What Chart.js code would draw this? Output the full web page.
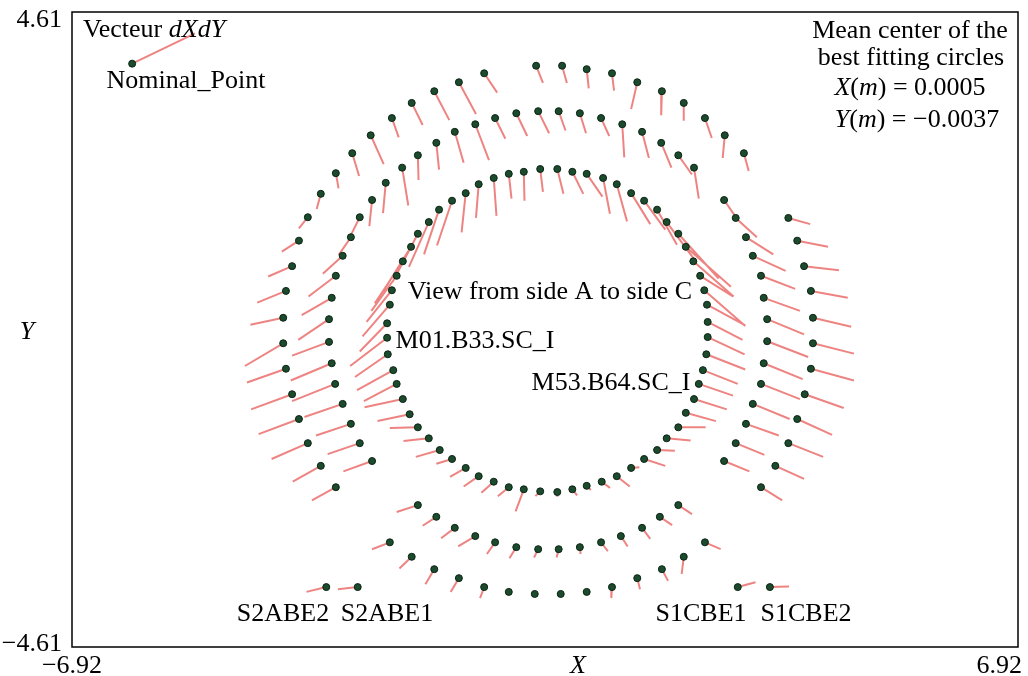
<!DOCTYPE html>
<html>
<head>
<meta charset="utf-8">
<script src="https://cdn.jsdelivr.net/npm/chart.js@4.4.1/dist/chart.umd.min.js"></script>
<style>
html, body { margin: 0; padding: 0; background: #fff; }
#wrap { width: 1028px; height: 676px; }
</style>
</head>
<body>
<div id="wrap"><canvas id="chart" width="1028" height="676"></canvas></div>
<script>
// axis limits (only min / max are labelled)
const xTicks = [-6.92, 6.92];
const yTicks = [-4.61, 4.61];

// inner ring, M01 .. M64 (metres) and the dXdY vectors (magnified)
const innerX = [-2.27, -2.24, -2.17, -2.08, -1.96, -1.86, -1.70, -1.55, -1.36, -1.16, -0.97, -0.75, -0.53, -0.31, -0.07, 0.18,
  0.40, 0.61, 0.85, 1.05, 1.26, 1.45, 1.64, 1.78, 1.95, 2.06, 2.17, 2.27, 2.33, 2.37, 2.38, 2.38,
  2.36, 2.31, 2.25, 2.18, 2.06, 1.95, 1.78, 1.64, 1.45, 1.26, 1.05, 0.83, 0.61, 0.40, 0.18, -0.07,
  -0.31, -0.53, -0.75, -0.97, -1.16, -1.36, -1.54, -1.70, -1.86, -1.98, -2.08, -2.17, -2.22, -2.30, -2.31, -2.31];
const innerY = [0.36, 0.57, 0.78, 0.99, 1.20, 1.39, 1.56, 1.74, 1.87, 1.98, 2.11, 2.20, 2.26, 2.29, 2.33, 2.33,
  2.29, 2.26, 2.20, 2.11, 1.98, 1.87, 1.74, 1.56, 1.39, 1.20, 0.99, 0.78, 0.57, 0.36, 0.11, -0.11,
  -0.36, -0.59, -0.79, -1.01, -1.21, -1.42, -1.58, -1.75, -1.88, -2.01, -2.13, -2.21, -2.27, -2.32, -2.36, -2.35,
  -2.32, -2.29, -2.21, -2.13, -2.01, -1.88, -1.75, -1.58, -1.42, -1.23, -1.01, -0.79, -0.59, -0.36, -0.12, 0.09];
const innerDX = [-0.40, -0.37, -0.37, -0.41, -0.41, -0.37, -0.29, -0.22, -0.22, -0.06, -0.04, 0.04, 0.04, 0.01, 0.04, 0.09,
  0.16, 0.23, 0.10, 0.15, 0.28, 0.31, 0.29, 0.41, 0.59, 0.66, 0.59, 0.48, 0.60, 0.56, 0.51, 0.54,
  0.57, 0.51, 0.50, 0.48, 0.44, 0.40, 0.35, 0.26, 0.31, 0.12, 0.19, 0.12, 0.06, 0.07, 0.00, -0.07,
  -0.12, -0.16, -0.18, -0.22, -0.23, -0.23, -0.35, -0.37, -0.41, -0.47, -0.56, -0.48, -0.53, -0.48, -0.54, -0.40];
const innerDY = [-0.46, -0.46, -0.51, -0.61, -0.65, -0.70, -0.65, -0.65, -0.65, -0.57, -0.49, -0.55, -0.36, -0.42, -0.33, -0.36,
  -0.32, -0.33, -0.52, -0.54, -0.45, -0.42, -0.51, -0.55, -0.65, -0.58, -0.51, -0.30, -0.52, -0.30, -0.26, -0.25,
  -0.22, -0.20, -0.17, -0.15, -0.12, 0.00, -0.03, -0.01, -0.10, 0.01, -0.15, -0.09, -0.06, -0.09, -0.07, -0.07,
  -0.32, -0.13, -0.16, -0.15, -0.13, -0.07, -0.10, -0.04, -0.01, -0.10, -0.12, -0.25, -0.29, -0.33, -0.41, -0.41];

// middle ring
const middleX = [-2.53, -2.71, -2.84, -2.96, -3.07, -3.12, -3.16, -3.16, -3.12, -3.06, -2.96, -2.84, -2.71, -2.53, -2.33, -2.09,
  -1.86, -1.59, -1.32, -1.02, -0.73, -0.42, -0.10, 0.20, 0.51, 0.82, 1.13, 1.42, 1.70, 1.95, 2.18,
  2.62, 2.79, 2.94, 3.04, 3.16, 3.20, 3.25, 3.25, 3.20, 3.16, 3.04, 2.94, 2.79, 2.62,
  -1.86, -1.59, -1.32, -1.02, -0.73, -0.42, -0.10, 0.20, 0.51, 0.82, 1.11, 1.42, 1.68, 1.95];
const middleY = [-1.91, -1.65, -1.37, -1.08, -0.79, -0.49, -0.18, 0.15, 0.46, 0.78, 1.07, 1.34, 1.63, 1.88, 2.13, 2.35,
  2.53, 2.71, 2.87, 2.98, 3.07, 3.14, 3.17, 3.17, 3.14, 3.07, 2.98, 2.87, 2.71, 2.53, 2.35,
  1.88, 1.62, 1.34, 1.07, 0.78, 0.46, 0.15, -0.17, -0.49, -0.79, -1.08, -1.37, -1.65, -1.91,
  -2.55, -2.72, -2.88, -3.00, -3.09, -3.16, -3.19, -3.19, -3.16, -3.09, -3.00, -2.88, -2.72, -2.55];
const middleDX = [-0.42, -0.47, -0.51, -0.56, -0.63, -0.60, -0.54, -0.45, -0.44, -0.40, -0.29, -0.18, -0.13, -0.04, -0.04, 0.09,
  0.01, 0.04, 0.13, 0.20, 0.15, 0.16, 0.16, 0.10, 0.09, 0.12, 0.03, 0.10, 0.15, 0.20, 0.07,
  0.18, 0.31, 0.40, 0.48, 0.50, 0.53, 0.54, 0.60, 0.57, 0.57, 0.54, 0.48, 0.42, 0.37,
  -0.31, -0.20, -0.20, -0.25, -0.12, -0.10, -0.06, -0.03, 0.01, 0.10, 0.10, 0.12, 0.18, 0.20];
const middleDY = [-0.15, -0.16, -0.17, -0.19, -0.25, -0.25, -0.20, -0.30, -0.25, -0.30, -0.26, -0.26, -0.26, -0.38, -0.44, -0.55,
  -0.36, -0.39, -0.45, -0.52, -0.30, -0.33, -0.32, -0.28, -0.29, -0.26, -0.48, -0.38, -0.36, -0.28, -0.45,
  -0.26, -0.28, -0.25, -0.22, -0.19, -0.19, -0.22, -0.23, -0.23, -0.22, -0.22, -0.17, -0.17, -0.15,
  -0.10, -0.13, -0.15, -0.15, -0.17, -0.16, -0.12, -0.12, -0.10, -0.13, -0.15, -0.16, -0.12, -0.13];

// outer ring
const outerX = [-3.06, -3.28, -3.47, -3.60, -3.70, -3.79, -3.83, -3.83, -3.79, -3.70, -3.60, -3.47, -3.28, -3.06, -2.82, -2.55,
  -2.24, -1.95, -1.62, -1.26, -0.89, -0.13, 0.25, 0.61, 0.98, 1.35, 1.71, 2.03, 2.34, 2.63, 2.91,
  3.56, 3.69, 3.79, 3.89, 3.92, 3.92, 3.89, 3.80, 3.69, 3.56, 3.37, 3.16,
  -2.27, -1.95, -1.62, -1.26, -0.89, -0.53, -0.15, 0.23, 0.61, 0.98, 1.35, 1.71, 2.03, 2.34];
const outerY = [-2.29, -1.98, -1.65, -1.30, -0.94, -0.57, -0.20, 0.17, 0.56, 0.92, 1.29, 1.63, 1.97, 2.27, 2.56, 2.82,
  3.07, 3.29, 3.46, 3.59, 3.72, 3.83, 3.83, 3.78, 3.72, 3.59, 3.46, 3.29, 3.07, 2.82, 2.56,
  1.62, 1.29, 0.92, 0.56, 0.17, -0.20, -0.57, -0.94, -1.30, -1.65, -1.98, -2.29,
  -3.09, -3.30, -3.48, -3.61, -3.74, -3.81, -3.84, -3.84, -3.81, -3.74, -3.61, -3.48, -3.30, -3.09];
const outerDX = [-0.35, -0.41, -0.53, -0.59, -0.60, -0.57, -0.56, -0.48, -0.42, -0.35, -0.25, -0.13, -0.06, 0.04, 0.10, 0.19,
  0.10, 0.16, 0.22, 0.25, 0.19, 0.10, 0.07, 0.03, 0.03, -0.09, -0.01, 0.00, 0.10, -0.03, 0.07,
  0.32, 0.45, 0.51, 0.54, 0.56, 0.60, 0.63, 0.57, 0.51, 0.51, 0.42, 0.31,
  -0.26, -0.18, -0.13, -0.12, -0.06, 0.00, 0.00, 0.00, 0.00, -0.01, 0.04, 0.09, -0.03, 0.23];
const outerDY = [-0.19, -0.23, -0.23, -0.22, -0.22, -0.20, -0.33, -0.10, -0.17, -0.15, -0.16, -0.16, -0.22, -0.22, -0.33, -0.42,
  -0.28, -0.32, -0.42, -0.46, -0.28, -0.25, -0.25, -0.28, -0.25, -0.39, -0.35, -0.26, -0.29, -0.33, -0.26,
  -0.09, -0.09, -0.06, -0.10, -0.13, -0.15, -0.17, -0.20, -0.23, -0.20, -0.19, -0.19,
  -0.10, -0.17, -0.22, -0.20, -0.16, -0.04, -0.03, -0.03, -0.03, -0.16, -0.16, -0.17, -0.25, -0.10];

// end-cap points S2ABE2, S2ABE1, S1CBE1, S1CBE2
const capX = [-3.20, -2.74, 2.82, 3.29];
const capY = [-3.74, -3.74, -3.74, -3.74];
const capDX = [-0.29, -0.29, 0.26, 0.28];
const capDY = [-0.07, -0.03, 0.07, 0.01];

// "Nominal_Point" key sample
const keyX = [-6.04];
const keyY = [3.86];
const keyDX = [0.92];
const keyDY = [0.44];

const points = [];
const vectors = [];

function addSet(xs, ys, dxs, dys) {
    xs.forEach((x, i) => {
        points.push({ x: x, y: ys[i] });
        vectors.push({ x: x, y: ys[i] });
        vectors.push({ x: x + dxs[i], y: ys[i] + dys[i] });
        vectors.push({ x: x, y: null });
    });
}

addSet(innerX, innerY, innerDX, innerDY);
addSet(middleX, middleY, middleDX, middleDY);
addSet(outerX, outerY, outerDX, outerDY);
addSet(capX, capY, capDX, capDY);
addSet(keyX, keyY, keyDX, keyDY);

const SERIF = '"Liberation Serif", "DejaVu Serif", serif';
const FS = 26;

// draws pieces of text, some italic, centred on cx
function richText(ctx, parts, cx, y, size) {
    let total = 0;
    parts.forEach(p => {
        ctx.font = (p[1] ? 'italic ' : '') + size + 'px ' + SERIF;
        total += ctx.measureText(p[0]).width;
    });
    let x = cx - total / 2;
    ctx.textAlign = 'left';
    parts.forEach(p => {
        ctx.font = (p[1] ? 'italic ' : '') + size + 'px ' + SERIF;
        ctx.fillText(p[0], x, y);
        x += ctx.measureText(p[0]).width;
    });
}

const decor = {
    id: 'decor',
    afterDraw(chart) {
        const ctx = chart.ctx;
        const a = chart.chartArea;
        const xs = chart.scales.x;
        const ys = chart.scales.y;

        ctx.save();
        ctx.strokeStyle = '#000';
        ctx.lineWidth = 1.5;
        ctx.strokeRect(a.left, a.top, a.right - a.left, a.bottom - a.top);

        ctx.fillStyle = '#000';
        ctx.textBaseline = 'alphabetic';
        ctx.font = FS + 'px ' + SERIF;

        // y tick labels
        ctx.textAlign = 'right';
        yTicks.forEach(v => {
            const py = ys.getPixelForValue(v);
            const label = (v < 0 ? '\u2212' : '') + Math.abs(v).toFixed(2);
            ctx.fillText(label, a.left - 10, py + (v < 0 ? 4 : 15));
        });

        // x tick labels
        xTicks.forEach(v => {
            const px = xs.getPixelForValue(v);
            const label = (v < 0 ? '\u2212' : '') + Math.abs(v).toFixed(2);
            const w = ctx.measureText(label).width;
            let left = px - w / 2;
            if (left + w > chart.width - 6) left = chart.width - 6 - w;
            ctx.textAlign = 'left';
            ctx.fillText(label, left, a.bottom + 26);
        });

        // axis titles
        richText(ctx, [['X', true]], (a.left + a.right) / 2 + 33, a.bottom + 26, FS);
        richText(ctx, [['Y', true]], 27, (a.top + a.bottom) / 2 + 9, FS);

        // key
        richText(ctx, [['Vecteur ', false], ['dXdY', true]], 154, 37, FS);
        richText(ctx, [['Nominal_Point', false]], 186, 88, FS);

        // mean centre box
        richText(ctx, [['Mean center of the', false]], 910, 38, FS);
        richText(ctx, [['best fitting circles', false]], 911, 65, FS);
        richText(ctx, [['X', true], ['(', false], ['m', true], [') = 0.0005', false]], 910, 95, FS);
        richText(ctx, [['Y', true], ['(', false], ['m', true], [') = \u22120.0037', false]], 917, 127, FS);

        // in-plot labels
        richText(ctx, [['View from side A to side C', false]], 550, 299, FS);
        richText(ctx, [['M01.B33.SC_I', false]], 475, 348, FS);
        richText(ctx, [['M53.B64.SC_I', false]], 611, 390, FS);
        richText(ctx, [['S2ABE2', false]], 283, 621, FS);
        richText(ctx, [['S2ABE1', false]], 387, 621, FS);
        richText(ctx, [['S1CBE1', false]], 701, 621, FS);
        richText(ctx, [['S1CBE2', false]], 806, 621, FS);
        ctx.restore();
    }
};

new Chart(document.getElementById('chart'), {
    type: 'scatter',
    data: {
        datasets: [
            {
                label: 'Nominal_Point',
                data: points,
                showLine: false,
                pointRadius: 3.5,
                pointBackgroundColor: '#1b4a2c',
                pointBorderColor: '#0b2414',
                pointBorderWidth: 1,
                order: 0
            },
            {
                label: 'dXdY',
                data: vectors,
                showLine: true,
                spanGaps: false,
                borderColor: '#ee8482',
                borderWidth: 2,
                pointRadius: 0,
                order: 1
            }
        ]
    },
    options: {
        responsive: false,
        animation: false,
        layout: { padding: { left: 72, top: 12, right: 10, bottom: 29 } },
        plugins: {
            legend: { display: false },
            tooltip: { enabled: false }
        },
        scales: {
            x: { type: 'linear', min: xTicks[0], max: xTicks[1], display: false },
            y: { type: 'linear', min: yTicks[0], max: yTicks[1], display: false }
        }
    },
    plugins: [decor]
});
</script>
</body>
</html>
